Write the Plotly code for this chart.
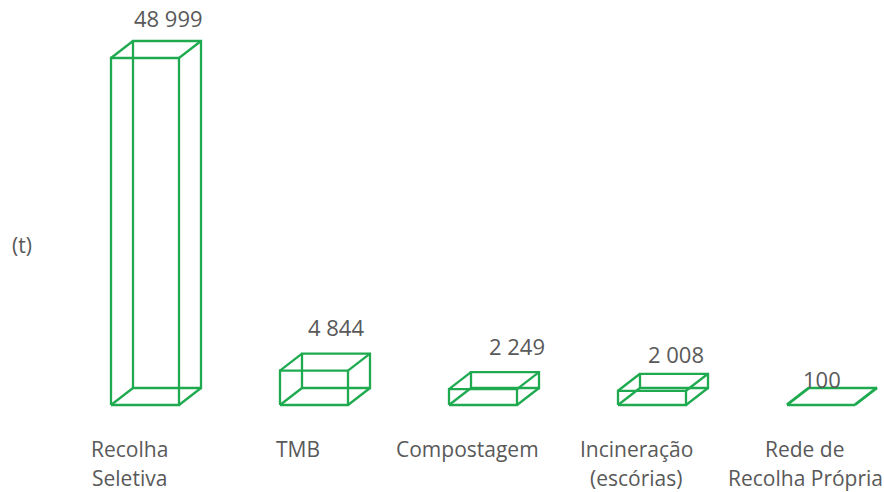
import plotly.graph_objects as go

# ---- data ----
categories = ["Recolha<br>Seletiva", "TMB", "Compostagem", "Incineração<br>(escórias)", "Rede de<br>Recolha Própria"]
values = [48999, 4844, 2249, 2008, 100]
value_labels = ["48 999", "4 844", "2 249", "2 008", "100"]
unit_label = "(t)"

# ---- style ----
GREEN = "#1FAA50"
TEXT = "#595959"
FONT = "Open Sans"
W, H = 884, 492
ML, MR, MT, MB = 60, 0, 0, 72
PX_PER_CAT = 169.0
X0_PX = 145.0           # pixel of first category centre
Y0_PX = 405.0           # pixel of value 0
PX_PER_UNIT = 347.0 / 48999.0
BAR_W = 68.0 / PX_PER_CAT
DEPTH_X = 22.0 / PX_PER_CAT
DEPTH_Y = 17.0 / PX_PER_UNIT
label_xshift = [1, 0, 12, 2, -21]
label_yshift = [23, 27, 26, 20, 8]
LINE_GAP = 29

plot_w = W - ML - MR
plot_h = H - MT - MB
x_min = (ML - X0_PX) / PX_PER_CAT
x_max = x_min + plot_w / PX_PER_CAT
y_min = -((MT + plot_h) - Y0_PX) / PX_PER_UNIT
y_max = y_min + plot_h / PX_PER_UNIT

fig = go.Figure()

for i, v in enumerate(values):
    xl, xr = i - BAR_W / 2, i + BAR_W / 2
    front = [(xl, 0), (xr, 0), (xr, v), (xl, v)]
    back = [(x + DEPTH_X, y + DEPTH_Y) for x, y in front]
    xs, ys = [], []
    for face in (front, back):
        for x, y in face + [face[0]]:
            xs.append(x); ys.append(y)
        xs.append(None); ys.append(None)
    for (fx, fy), (bx, by) in zip(front, back):
        xs += [fx, bx, None]; ys += [fy, by, None]
    fig.add_trace(go.Scatter(x=xs, y=ys, mode="lines",
                             line=dict(color=GREEN, width=2.3),
                             hoverinfo="skip", showlegend=False, cliponaxis=False))
    fig.add_annotation(x=i + DEPTH_X, y=v + DEPTH_Y, text=value_labels[i],
                       showarrow=False, xanchor="center", yanchor="middle",
                       xshift=label_xshift[i], yshift=label_yshift[i],
                       font=dict(family=FONT, size=22, color=TEXT))
    for k, line in enumerate(categories[i].split("<br>")):
        fig.add_annotation(x=i, y=0, text=line, showarrow=False,
                           xanchor="center", yanchor="middle", xshift=-16,
                           yshift=-(44 + k * LINE_GAP),
                           font=dict(family=FONT, size=21, color=TEXT))

fig.add_annotation(xref="paper", yref="paper", x=-(ML - 22) / plot_w, y=1 - (245 - MT) / plot_h,
                   text=unit_label, showarrow=False, xanchor="center", yanchor="middle",
                   font=dict(family=FONT, size=21, color=TEXT))

fig.update_xaxes(range=[x_min, x_max], visible=False, fixedrange=True)
fig.update_yaxes(range=[y_min, y_max], visible=False, fixedrange=True)
fig.update_layout(width=W, height=H, margin=dict(l=ML, r=MR, t=MT, b=MB),
                  plot_bgcolor="white", paper_bgcolor="white")

fig.write_html("out.html", config={"displayModeBar": False},
               post_script="document.body.style.margin='0';document.body.style.overflow='hidden';")
